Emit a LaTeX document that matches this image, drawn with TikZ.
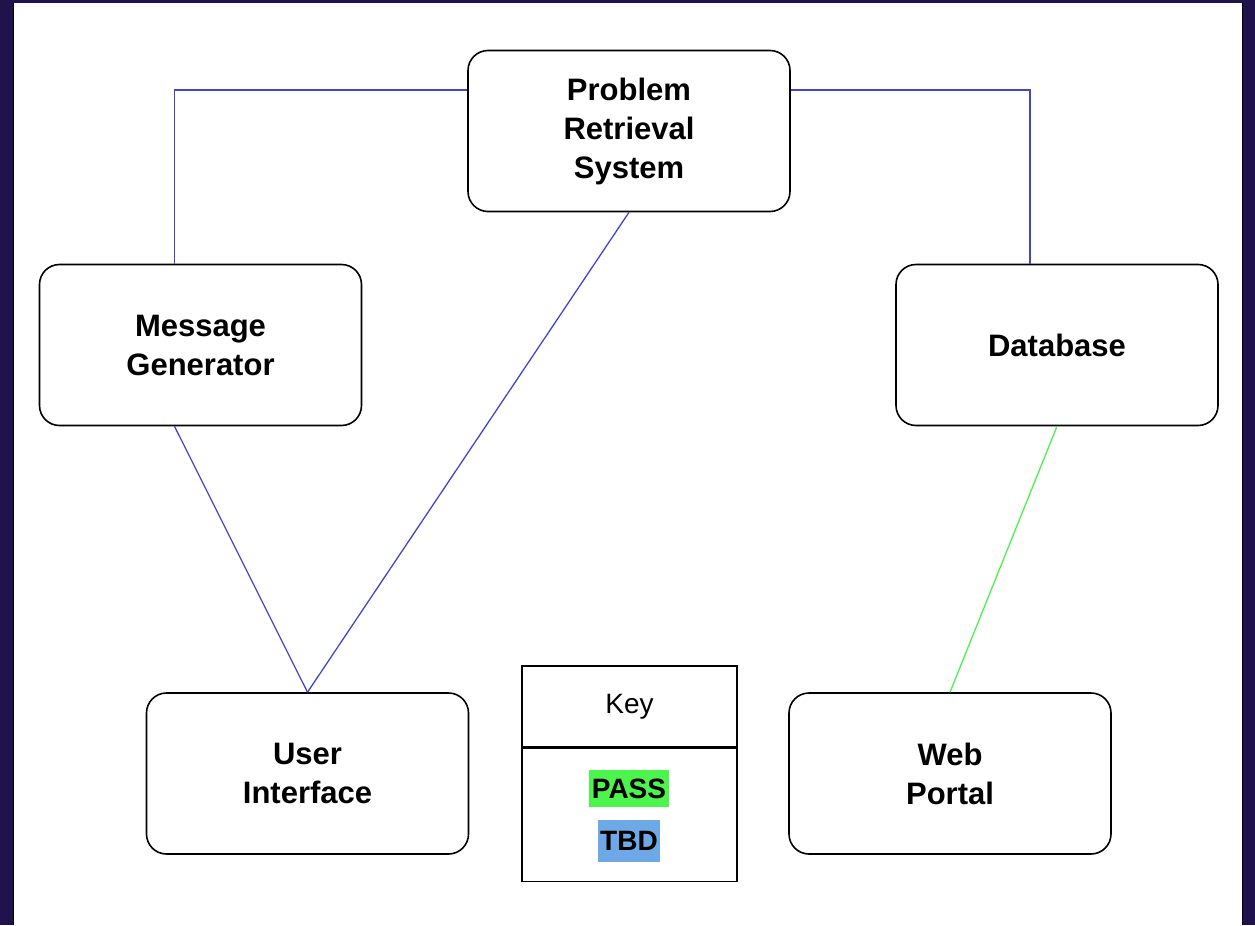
\documentclass[tikz,border=0pt]{standalone}
\usepackage{fontspec}
\setmainfont{Liberation Sans}
\usetikzlibrary{positioning}

\definecolor{frame}{RGB}{32,18,77}
\definecolor{linkblue}{RGB}{70,70,200}
\definecolor{linkgreen}{RGB}{80,240,80}
\definecolor{passgreen}{RGB}{76,245,76}
\definecolor{tbdblue}{RGB}{111,168,230}

\begin{document}
\begin{tikzpicture}[x=1pt,y=-1pt,
	box/.style={draw,line width=1.6pt,rounded corners=20pt,minimum width=322pt,
		minimum height=161pt,align=center,font=\bfseries\fontsize{31}{39}\selectfont},
	link/.style={linkblue,line width=1.3pt},
	keycell/.style={draw,line width=1.6pt,minimum width=215pt,inner sep=0pt},
	tag/.style={inner xsep=2.5pt,inner ysep=0pt,font=\bfseries\fontsize{28}{30}\selectfont}]
	% frame
	\fill[frame] (0,0) rectangle (1255,925);
	\fill[white] (13,3) rectangle (1243,925);
	\draw[line width=1.5pt] (13.5,3) -- (13.5,925);
	\draw[line width=1.5pt] (1242.5,3) -- (1242.5,925);
	
	\node[box] (prs) at (629,131) {Problem\\Retrieval\\System};
	\node[box] (mg) at (200.5,345) {Message\\Generator};
	\node[box] (db) at (1057,345) {Database};
	\node[box] (ui) at (307.5,773.5) {User\\Interface};
	\node[box] (wp) at (950,773.5) {Web\\Portal};
	
	% key
	\node[keycell,minimum height=81pt,font=\fontsize{28}{30}\selectfont] (keyhead) at (629.5,706.5) {Key};
	\node[keycell,minimum height=133pt,below=0pt of keyhead] (keybody) {};
	\node[tag,fill=passgreen,minimum height=37pt] (pass) at (629,788.5) {PASS};
	\node[tag,fill=tbdblue,minimum height=42pt] (tbd) at (629,841) {TBD};
	
	\draw[link] ([yshift=41pt]prs.west) -| ([xshift=-26pt]mg.north);
	\draw[link] ([yshift=41pt]prs.east) -| ([xshift=-27pt]db.north);
	\draw[link] (prs.south) -- (ui.north);
	\draw[link] ([xshift=-26pt]mg.south) -- (ui.north);
	\draw[linkgreen,line width=1.3pt] (db.south) -- (wp.north);
\end{tikzpicture}
\end{document}
